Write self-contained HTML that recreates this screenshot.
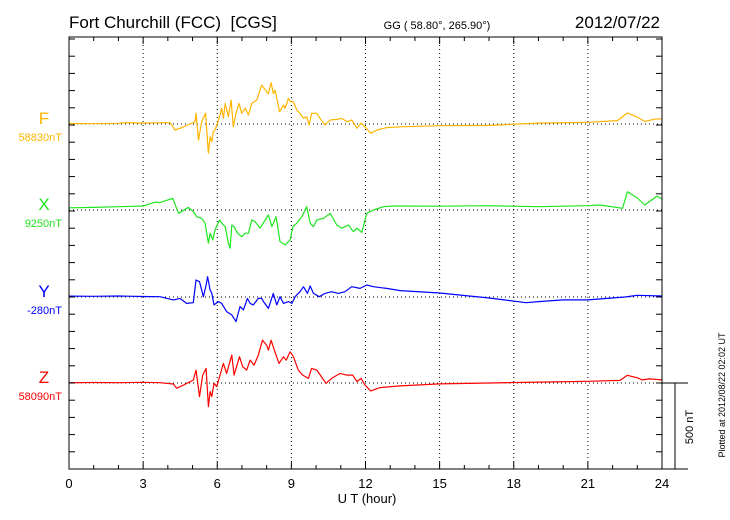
<!DOCTYPE html>
<html><head><meta charset="utf-8">
<style>
html,body{margin:0;padding:0;background:#fff;}
svg{display:block;font-family:"Liberation Sans",sans-serif;}
</style></head>
<body>
<svg id="chart" width="730" height="520" viewBox="0 0 730 520" xmlns="http://www.w3.org/2000/svg">
<text xml:space="preserve" x="69" y="28" font-size="17" fill="#000">Fort Churchill (FCC)  [CGS]</text>
<text x="437" y="29" font-size="11" fill="#000" text-anchor="middle">GG ( 58.80°, 265.90°)</text>
<text x="660" y="28" font-size="17" fill="#000" text-anchor="end">2012/07/22</text>
<text x="367" y="503" font-size="13" fill="#000" text-anchor="middle">U T (hour)</text>
<text transform="translate(725,395) rotate(-90)" font-size="9" fill="#000" text-anchor="middle">Plotted at 2012/08/22 02:02 UT</text>
<text transform="translate(693,427) rotate(-90)" font-size="11" fill="#000" text-anchor="middle">500 nT</text>
<g id="grid"></g>
<g id="series"></g>
<g id="axes"></g>
</svg>
<script>
const hourTicks = [0,3,6,9,12,15,18,21,24];
const seriesNames = ["F","X","Y","Z"];
const seriesBaseLabels = ["58830nT","9250nT","-280nT","58090nT"];
const seriesColors = ["#ffb400","#1ee61e","#0000ff","#ff0000"];

const fHours = [0,1,2,2.3,3,3.68,4.09,4.29,4.49,4.90,5.10,5.14,5.24,5.37,5.53,5.64,5.71,5.78,5.84,5.91,6.05,6.18,6.25,6.32,6.45,6.56,6.65,6.76,6.88,6.99,7.13,7.26,7.40,7.60,7.80,8.00,8.07,8.18,8.27,8.34,8.52,8.68,8.75,8.88,8.97,9.08,9.22,9.35,9.49,9.62,9.72,9.82,10.03,10.16,10.36,10.57,10.84,11.04,11.24,11.44,11.65,11.82,11.98,12.21,12.46,12.86,13.40,15,17,19,21,22.2,22.6,23,23.3,23.7,24];
const fVals  = [3,2,4,8,5,7.6,7.6,-35,-25,0,13,62,-93,13,62,-170,-74,-103,-45,-35,23,91,33,120,42,139,-16,62,120,62,91,52,120,139,226,187,177,240,177,197,71,110,91,149,129,129,81,62,33,42,-6,62,62,33,-6,23,27,33,13,23,-25,4,-16,-54,-35,-21,-16,-10,-8,5,10,20,64,40,15,28,30];

const xHours = [0,1,2,3,3.5,3.68,4.20,4.43,4.83,5.03,5.17,5.37,5.51,5.64,5.71,5.82,5.91,6.09,6.18,6.32,6.45,6.52,6.59,6.68,6.82,6.99,7.13,7.26,7.40,7.53,7.73,7.94,8.07,8.21,8.38,8.54,8.75,8.95,9.06,9.22,9.42,9.62,9.76,9.89,10.03,10.30,10.57,10.84,11.04,11.31,11.51,11.65,11.85,12.05,12.32,12.73,13.13,13.40,15,17,19,21,21.5,22.4,22.6,23,23.3,23.8,24];
const xVals  = [13,15,19,23,46,43,68,-19,15,-9,-39,-48,-77,-193,-135,-174,-116,-58,-77,-97,-193,-222,-87,-97,-135,-155,-135,-135,-58,-68,-106,-58,-29,-97,-39,-184,-203,-174,-97,-77,-39,19,-77,-97,-58,-48,-19,-87,-106,-87,-126,-106,-131,-19,0,19,23,23,22,25,19,25,29,10,106,70,29,81,64];

const yHours = [0,1,2,3,3.68,4.22,4.49,4.76,5.03,5.14,5.28,5.44,5.55,5.61,5.71,5.78,5.87,6.05,6.18,6.38,6.59,6.76,6.92,7.06,7.22,7.33,7.46,7.66,7.80,7.87,8.07,8.27,8.41,8.54,8.68,8.88,9.02,9.15,9.35,9.49,9.65,9.76,9.89,10.13,10.36,10.63,10.90,11.17,11.44,11.78,12.05,12.32,12.86,13.40,15,17,18.5,19,20,21,22.5,23,24];
const yVals  = [5,4,6,3,2,-17,-8,-37,-33,99,89,2,70,118,41,21,-46,-27,-37,-85,-104,-143,-56,-75,-8,-37,-46,-8,-8,-27,-66,21,-46,2,-37,-27,-37,2,31,60,21,64,21,2,21,31,21,31,60,50,70,60,50,37,23,-6,-33,-27,-17,-17,0,10,6];

const zHours = [0,1,2,3,3.68,4.22,4.36,4.63,5.03,5.14,5.28,5.41,5.55,5.64,5.71,5.78,5.87,5.98,6.11,6.25,6.38,6.59,6.68,6.90,7.03,7.19,7.33,7.49,7.66,7.83,8.00,8.07,8.18,8.31,8.50,8.68,8.79,8.95,9.08,9.28,9.46,9.69,9.82,10.03,10.40,10.63,10.97,11.24,11.48,11.65,11.82,11.98,12.21,12.59,13.40,15,17,19,21,22.3,22.6,23,23.2,23.5,24];
const zVals  = [2,3,2,4,2,-6,-31,-12,17,75,-79,46,85,-137,-50,-79,-2,-21,46,114,56,162,46,153,95,75,133,104,162,249,220,191,249,191,114,153,133,182,153,75,46,27,85,75,-2,27,56,46,46,8,27,-12,-46,-27,-17,-5,0,5,10,15,45,30,18,24,18];

const L=69,R=662,T=37,B=469;
const baselines=[124,210,297,383];
const pxPerNT=17.2/100;
function xs(h){return L+(R-L)*h/24;}
function ys(i,v){return baselines[i]-v*pxPerNT;}
const NS="http://www.w3.org/2000/svg";
function mk(tag,attrs,parent){const e=document.createElementNS(NS,tag);for(const k in attrs)e.setAttribute(k,attrs[k]);parent.appendChild(e);return e;}

const grid=document.getElementById('grid');
const axes=document.getElementById('axes');
const ser=document.getElementById('series');

hourTicks.forEach(h=>{
  if(h>0&&h<24){
    const g=mk('line',{x1:xs(h),x2:xs(h),y1:T,y2:B,stroke:'#000','stroke-width':1,'stroke-dasharray':'1,3'},grid);
    
    
  }
});
baselines.forEach(b=>{
  const g=mk('line',{x1:L,x2:R,y1:b,y2:b,stroke:'#000','stroke-width':1,'stroke-dasharray':'1,3'},grid);
  
  
});

const frame=mk('rect',{x:L,y:T,width:R-L,height:B-T,fill:'none',stroke:'#000','stroke-width':1},axes);


for(let h=1;h<24;h++){
  const len=(h%3===0)?7:4;
  const t1=mk('line',{x1:xs(h),x2:xs(h),y1:B,y2:B-len,stroke:'#000'},axes);
  
  
  const t2=mk('line',{x1:xs(h),x2:xs(h),y1:T,y2:T+len,stroke:'#000'},axes);
  
  
}
for(let y=B-17.2;y>T+2;y-=17.2){
  const a=mk('line',{x1:L,x2:L+6,y1:y,y2:y,stroke:'#000'},axes);
  
  
  const b=mk('line',{x1:R,x2:R-6,y1:y,y2:y,stroke:'#000'},axes);
  
  
}
hourTicks.forEach(h=>{
  const t=mk('text',{x:xs(h),y:488,'font-size':13,'text-anchor':'middle',fill:'#000'},axes);
  t.textContent=h;
  
  
});
const sb1=mk('line',{x1:R,x2:688,y1:383,y2:383,stroke:'#000'},axes);


const sb2=mk('line',{x1:R,x2:688,y1:B,y2:B,stroke:'#000'},axes);


const sb3=mk('line',{x1:675,x2:675,y1:383,y2:B,stroke:'#000'},axes);



const allH=[fHours,xHours,yHours,zHours], allV=[fVals,xVals,yVals,zVals];
for(let i=0;i<4;i++){
  const pts=allH[i].map((h,k)=>xs(h).toFixed(1)+','+ys(i,allV[i][k]).toFixed(1)).join(' ');
  const p=mk('polyline',{points:pts,fill:'none',stroke:seriesColors[i],'stroke-width':1.2,'stroke-linejoin':'round'},ser);
  
  
  const lt=mk('text',{x:44,y:baselines[i],'font-size':17,'text-anchor':'middle',fill:seriesColors[i]},axes);
  lt.textContent=seriesNames[i];
  
  
  const bt=mk('text',{x:62,y:baselines[i]+17,'font-size':11,'text-anchor':'end',fill:seriesColors[i]},axes);
  bt.textContent=seriesBaseLabels[i];
  
  
}
</script>
</body></html>
